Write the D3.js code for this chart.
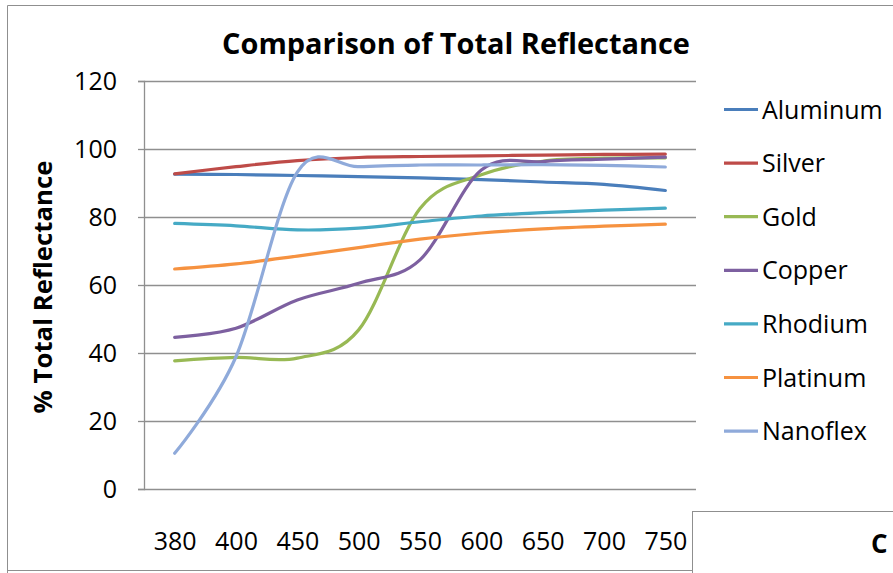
<!DOCTYPE html>
<html>
<head>
<meta charset="utf-8">
<script src="https://cdn.jsdelivr.net/npm/d3@7"></script>
<style>
  html, body { margin: 0; padding: 0; background: #fff; }
  svg { display: block; }
  text { font-family: "Open Sans", "Noto Sans", sans-serif; fill: #000; }
</style>
</head>
<body>
<svg id="chart" width="893" height="573"></svg>
<script>
// ---- data ----
const categories = ["380", "400", "450", "500", "550", "600", "650", "700", "750"];
const yTicks = [0, 20, 40, 60, 80, 100, 120];
const seriesNames = ["Aluminum", "Silver", "Gold", "Copper", "Rhodium", "Platinum", "Nanoflex"];
const aluminum = [92.6, 92.5, 92.2, 91.9, 91.5, 91.0, 90.3, 89.6, 87.8];
const silver   = [92.7, 94.8, 96.6, 97.5, 97.8, 98.0, 98.2, 98.4, 98.5];
const gold     = [37.7, 38.7, 38.5, 46.8, 82.5, 92.4, 96.4, 97.3, 97.4];
const copper   = [44.6, 47.3, 55.6, 60.5, 67.4, 93.8, 96.3, 97.0, 97.6];
const rhodium  = [78.1, 77.4, 76.2, 76.7, 78.6, 80.3, 81.3, 82.0, 82.6];
const platinum = [64.7, 66.2, 68.5, 71.0, 73.5, 75.3, 76.5, 77.3, 77.9];
const nanoflex = [10.5, 38.9, 93.2, 94.8, 95.3, 95.3, 95.4, 95.2, 94.7];
const seriesValues = [aluminum, silver, gold, copper, rhodium, platinum, nanoflex];
const seriesColors = ["#4A7EBB", "#BE4B48", "#98B954", "#7D60A0", "#46AAC5", "#F69240", "#8FAADA"];
const titleText = "Comparison of Total Reflectance";
const yTitleText = "% Total Reflectance";

// ---- layout ----
const svg = d3.select("#chart");
const plot = { left: 144, right: 696, top: 81, bottom: 489 };
const gridColor = "#8f8f8f";

// outer chart border
svg.append("path")
  .attr("d", "M7.5,573 L7.5,5.5 L893,5.5")
  .attr("fill", "none").attr("stroke", gridColor).attr("stroke-width", 1);
svg.append("line")
  .attr("x1", 7.5).attr("x2", 692).attr("y1", 570.5).attr("y2", 570.5)
  .attr("stroke", gridColor).attr("stroke-width", 1);

const x = d3.scalePoint().domain(categories).range([plot.left, plot.right]).padding(0.5);
const y = d3.scaleLinear().domain([0, 120]).range([plot.bottom, plot.top]);

// gridlines
const grid = svg.append("g").attr("transform", `translate(${plot.left},0)`)
  .call(d3.axisLeft(y).tickValues(yTicks).tickSize(-(plot.right - plot.left)).tickFormat(""));
grid.select(".domain").remove();
grid.selectAll("line").attr("stroke", gridColor).attr("stroke-width", 1.3);

// y axis
const yAxis = svg.append("g").attr("transform", `translate(${plot.left},0)`)
  .call(d3.axisLeft(y).tickValues(yTicks).tickSize(6).tickPadding(21));
yAxis.select(".domain").attr("stroke", gridColor).attr("stroke-width", 1.3);
yAxis.selectAll(".tick line").attr("stroke", gridColor).attr("stroke-width", 1.3);
yAxis.selectAll("text").attr("font-size", 25).attr("font-family", "Open Sans").attr("fill", "#000");

// x axis labels
const xAxis = svg.append("g").attr("transform", `translate(0,${plot.bottom})`)
  .call(d3.axisBottom(x).tickSize(0).tickPadding(43));
xAxis.select(".domain").remove();
xAxis.selectAll("text").attr("font-size", 25).attr("font-family", "Open Sans").attr("fill", "#000");

// lines
const line = d3.line()
  .x((d, i) => x(categories[i]))
  .y(d => y(d))
  .curve(d3.curveCardinal.tension(0));

svg.append("g").selectAll("path")
  .data(seriesValues)
  .join("path")
  .attr("d", d => line(d))
  .attr("fill", "none")
  .attr("stroke", (d, i) => seriesColors[i])
  .attr("stroke-width", 3.2)
  .attr("stroke-linejoin", "round")
  .attr("stroke-linecap", "round");

// legend
const legend = svg.append("g");
const legendItems = legend.selectAll("g")
  .data(seriesNames)
  .join("g")
  .attr("transform", (d, i) => `translate(724,${109.5 + i * 53.6})`);
legendItems.append("line")
  .attr("x1", 0).attr("x2", 34).attr("y1", 0).attr("y2", 0)
  .attr("stroke", (d, i) => seriesColors[i]).attr("stroke-width", 3.2);
legendItems.append("text")
  .attr("x", 38).attr("y", 9)
  .attr("font-size", 25)
  .text(d => d);

// title
const title = svg.append("text")
  .attr("x", 456).attr("y", 54)
  .attr("text-anchor", "middle")
  .attr("font-weight", "bold")
  .attr("font-size", 27)
  .text(titleText);
(function fit(t, w) {
  const len = t.node().getComputedTextLength();
  const fs = +t.attr("font-size");
  t.attr("font-size", fs * w / len);
})(title, 468);

// y axis title
const yTitle = svg.append("text")
  .attr("transform", "translate(52,287) rotate(-90)")
  .attr("text-anchor", "middle")
  .attr("font-weight", "bold")
  .attr("font-size", 23)
  .text(yTitleText);
(function fit(t, w) {
  const len = t.node().getComputedTextLength();
  const fs = +t.attr("font-size");
  t.attr("font-size", fs * w / len);
})(yTitle, 253);

// overlapping neighbouring chart box (bottom right)
svg.append("rect")
  .attr("x", 692.5).attr("y", 511.5).attr("width", 260).attr("height", 80)
  .attr("fill", "#fff").attr("stroke", gridColor).attr("stroke-width", 1);
svg.append("text")
  .attr("x", 871).attr("y", 553)
  .attr("font-weight", "bold")
  .attr("font-size", 26)
  .text("C");
</script>
</body>
</html>
